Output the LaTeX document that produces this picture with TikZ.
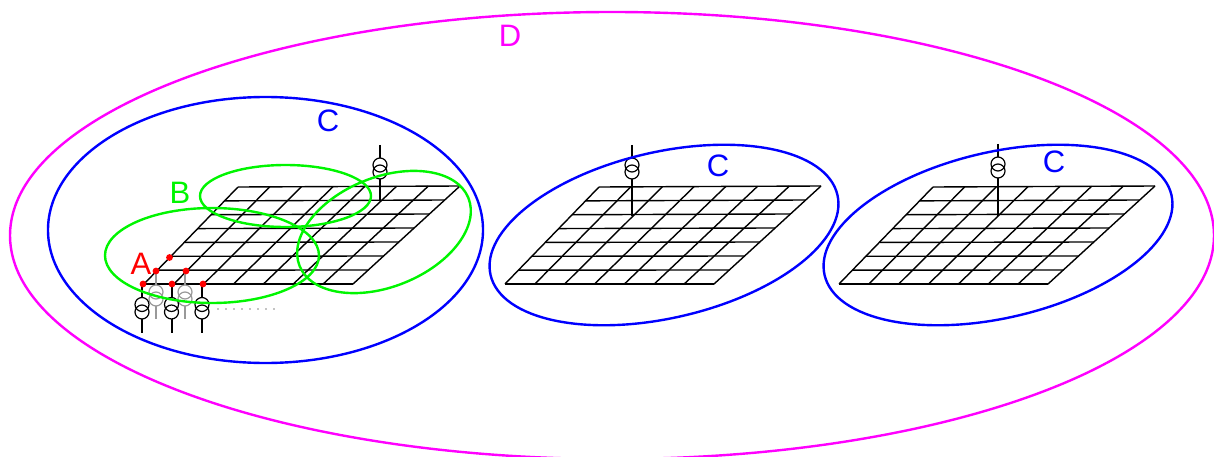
\documentclass[tikz,border=0pt]{standalone}
\usepackage{fontspec}
\setmainfont{Liberation Sans}
\usetikzlibrary{calc}
\definecolor{zoneD}{RGB}{255,0,255}
\definecolor{zoneC}{RGB}{0,0,255}
\definecolor{zoneB}{RGB}{0,245,0}
\definecolor{zoneA}{RGB}{255,0,0}
\begin{document}
\begin{tikzpicture}[
        x=1pt, y=-1pt, font=\fontsize{31}{32}\selectfont,
        net/.style={black, line width=1.4pt},
        stem/.style={black, line width=2pt},
        coil/.style={black, line width=1.2pt},
        grayed/.style={black!40},
        zone/.style={line width=2.4pt},
        bus/.style={fill=zoneA, draw=none}
    ]
        \useasboundingbox (0,0) rectangle (1214,457);
        \clip (0,0) rectangle (1214,457);
        % grids
        \foreach \ox in {-361,0,334} {
            \begin{scope}[xshift=\ox pt]
                \coordinate (bl) at (505,284);
                \coordinate (br) at (714,284);
                \coordinate (tl) at (599,187);
                \coordinate (tr) at (821,186);
                \foreach \i in {0,...,7} {
                    \draw[net] ($(tl)!\i/7!(bl)$) -- ($(tr)!\i/7!(br)$);
                    \draw[net] ($(bl)!\i/7!(br)$) -- ($(tl)!\i/7!(tr)$);
                }
            \end{scope}
        }
        % upper transformers
        \foreach \tx/\ty/\ey in {380/145/201, 632/145/216, 998/144/216} {
            \draw[stem] (\tx,\ty) -- (\tx,\ty+13);
            \draw[stem] (\tx,\ty+34) -- (\tx,\ey);
            \draw[coil] (\tx,\ty+20) circle[radius=7];
            \draw[coil] (\tx,\ty+27) circle[radius=7];
        }
        % lower transformers
        \foreach \tx in {156,185} {
            \draw[stem, grayed] (\tx,271) -- (\tx,285);
            \draw[stem, grayed] (\tx,306) -- (\tx,318.5);
            \draw[coil, grayed] (\tx,292) circle[radius=7];
            \draw[coil, grayed] (\tx,299) circle[radius=7];
        }
        \foreach \tx in {142,171.5,202} {
            \draw[stem] (\tx,284) -- (\tx,298);
            \draw[stem] (\tx,319) -- (\tx,332.5);
            \draw[coil] (\tx,304.5) circle[radius=7];
            \draw[coil] (\tx,312) circle[radius=7];
        }
        \foreach \i in {0,...,7} {
            \fill[black] (218+8*\i,309) circle[radius=0.6];
        }
        % zones
        \draw[zone, zoneD] (612,235.5) ellipse[x radius=602, y radius=223.5];
        \draw[zone, zoneC] (265.5,230) ellipse[x radius=217.5, y radius=133];
        \draw[zone, zoneC, rotate around={13:(664,235)}] (664,235) ellipse[x radius=178, y radius=83];
        \draw[zone, zoneC, rotate around={13:(998,235)}] (998,235) ellipse[x radius=178, y radius=83];
        \draw[zone, zoneB] (212,255.5) ellipse[x radius=107, y radius=47.5];
        \draw[zone, zoneB] (285.5,196) ellipse[x radius=85.5, y radius=31];
        \draw[zone, zoneB, rotate around={22:(384,232)}] (384,232) ellipse[x radius=91, y radius=54.7];
        % bus dots
        \foreach \bx/\by in {143/284, 172/284, 203/284, 156/271, 186/271, 169.5/257.5} {
            \fill[bus] (\bx,\by) circle[radius=3.4];
        }
        % labels
        \node[zoneD] (lblD) at (510,36) {D};
        \node[zoneC] (lblC1) at (328,121) {C};
        \node[zoneC] (lblC2) at (718,166) {C};
        \node[zoneC] (lblC3) at (1054,162) {C};
        \node[zoneB] (lblB) at (180,193) {B};
        \node[zoneA] (lblA) at (141,264) {A};
    \end{tikzpicture}
\end{document}
